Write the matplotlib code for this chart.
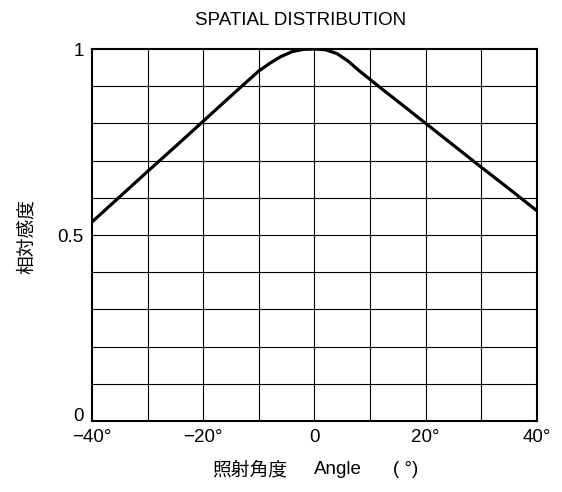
# plot.py
# Spatial distribution: relative sensitivity vs. irradiation angle.

import matplotlib
matplotlib.use('Agg')
import matplotlib.pyplot as plt

plt.rcParams['font.family'] = ['Liberation Sans', 'Noto Sans CJK JP', 'DejaVu Sans']

# curve
angle = [-40, -35, -30, -25, -20, -15, -13, -10, -8, -6, -4, -2, 0,
         2, 4, 6, 8, 10, 12, 15, 20, 25, 30, 35, 40]
sensitivity = [0.535, 0.603, 0.671, 0.738, 0.806, 0.874, 0.901, 0.941, 0.962, 0.980, 0.993, 0.999, 1.0,
               0.998, 0.988, 0.968, 0.942, 0.918, 0.894, 0.859, 0.80, 0.741, 0.682, 0.624, 0.565]

xticks = [-40, -20, 0, 20, 40]
xticklabels = ['\u221240\u00b0', '\u221220\u00b0', '0', '20\u00b0', '40\u00b0']
yticks = [0, 0.5, 1]
yticklabels = ['0', '0.5', '1']

fig = plt.figure(figsize=(5.62, 4.92), dpi=100)
ax = fig.add_axes([0.1637, 0.1443, 0.7918, 0.7561])

ax.plot(angle, sensitivity, color='black', lw=2.3, solid_capstyle='butt', solid_joinstyle='round')

ax.set_xlim(-40, 40)
ax.set_ylim(0, 1)

# grid every 10 degrees and every 0.1
for x in range(-30, 40, 10):
    ax.axvline(x, color='black', lw=0.8, zorder=0)
for i in range(1, 10):
    ax.axhline(i / 10, color='black', lw=0.8, zorder=0)

ax.set_xticks(xticks)
ax.set_xticklabels(xticklabels)
ax.set_yticks(yticks)
ax.set_yticklabels(yticklabels)
ax.tick_params(length=0, labelsize=13.5, pad=6)
ax.tick_params(axis='x', pad=6)
# the "0" sits on the bottom edge, clear of "-40°"
ax.get_yticklabels()[0].set_va('baseline')

for s in ax.spines.values():
    s.set_linewidth(1.5)

cjk = ['Noto Sans CJK JP', 'Liberation Sans']
fig.text(0.535, 0.959, 'SPATIAL DISTRIBUTION', ha='center', va='center', fontsize=13.5)
fig.text(250 / 562, 0.045, '照射角度', ha='center', va='center', fontsize=13.5, family=cjk)
fig.text(338 / 562, 0.045, 'Angle', ha='center', va='center', fontsize=13.5)
fig.text(406 / 562, 0.045, '( \u00b0)', ha='center', va='center', fontsize=13.5)
fig.text(26 / 562, 0.52, '相対感度', ha='center', va='center', rotation=90, fontsize=13.5,
         family=cjk)

fig.savefig('out.png', dpi=100)
